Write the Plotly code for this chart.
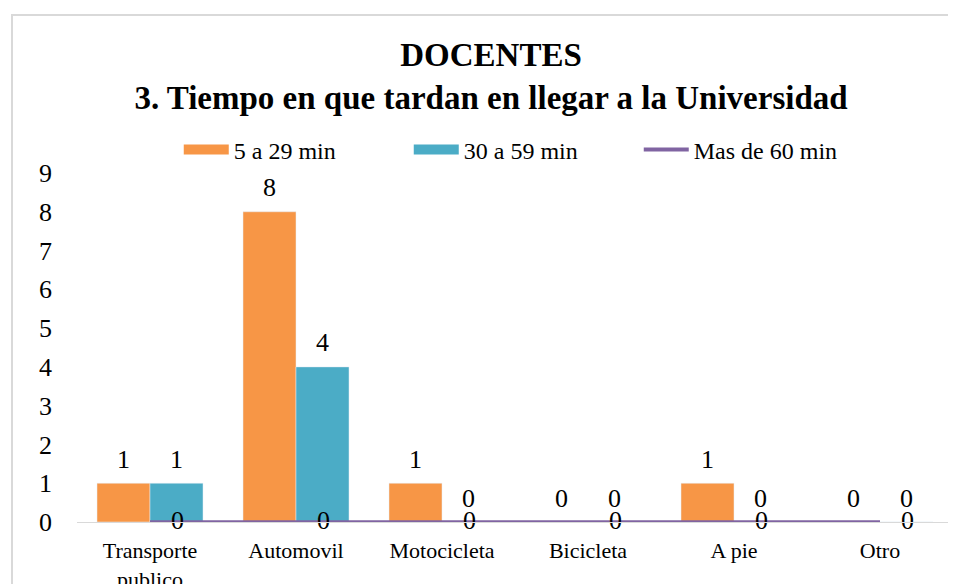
import plotly.graph_objects as go

categories = ["Transporte<br>publico", "Automovil", "Motocicleta", "Bicicleta", "A pie", "Otro"]
s1_name = "5 a 29 min"
s1_values = [1, 8, 1, 0, 1, 0]
s2_name = "30 a 59 min"
s2_values = [1, 4, 0, 0, 0, 0]
s3_name = "Mas de 60 min"
s3_values = [0, 0, 0, 0, 0, 0]
y_ticks = [0, 1, 2, 3, 4, 5, 6, 7, 8, 9]

FONT = "Liberation Serif, Times New Roman, serif"
LABEL_SIZE = 26
C1, C2, C3 = "#F79646", "#4BACC6", "#8064A2"

fig = go.Figure()
fig.add_trace(go.Bar(x=categories, y=s1_values, name=s1_name, marker_color=C1,
                     showlegend=False, legendgroup="a"))
fig.add_trace(go.Bar(x=categories, y=s2_values, name=s2_name, marker_color=C2,
                     showlegend=False, legendgroup="b"))
fig.add_trace(go.Scatter(
    x=categories, y=s3_values, name=s3_name, mode="lines+markers+text",
    line=dict(color=C3, width=3.5), showlegend=False, legendgroup="c",
    marker=dict(size=32, color="rgba(0,0,0,0)"),
    text=s3_values, textposition="middle right", cliponaxis=False,
    textfont=dict(size=LABEL_SIZE, color="#000000", family=FONT),
))
# legend entries (wide swatches like the original)
for name, col, w, g in ((s1_name, C1, 12, "a"), (s2_name, C2, 12, "b"), (s3_name, C3, 4, "c")):
    fig.add_trace(go.Scatter(x=[None], y=[None], mode="lines", name=name,
                             line=dict(color=col, width=w), legendgroup=g))

# bar value labels, placed above each grouped bar
annotations = []
for vals, dx in ((s1_values, -26.5), (s2_values, 26.5)):
    for c, v in zip(categories, vals):
        annotations.append(dict(
            x=c, y=v, xref="x", yref="y", text=str(v), showarrow=False,
            xshift=dx, yshift=24, yanchor="middle", xanchor="center",
            font=dict(size=LABEL_SIZE, family=FONT, color="#000000"),
        ))

fig.update_layout(
    width=948, height=576,
    paper_bgcolor="#FFFFFF", plot_bgcolor="#FFFFFF",
    font=dict(family=FONT, color="#000000"),
    margin=dict(l=69, r=3, t=165, b=62, autoexpand=False),
    barmode="group", bargap=0.274, bargroupgap=0,
    title=dict(
        text="<b>DOCENTES<br>3. Tiempo en que tardan en llegar a la Universidad</b>",
        x=0.5095, xanchor="center", yref="container", y=0.9, yanchor="top",
        font=dict(size=33, family=FONT, color="#000000"), automargin=False,
    ),
    legend=dict(
        orientation="h", x=0.51, xanchor="center", y=1.066, yanchor="middle",
        font=dict(size=24, family=FONT, color="#000000"),
        itemwidth=45, entrywidth=170, bgcolor="rgba(0,0,0,0)",
    ),
    xaxis=dict(
        showline=True, linecolor="#D9D9D9", linewidth=1, showgrid=False,
        tickfont=dict(size=22, family=FONT, color="#000000"),
        ticks="", ticklabelstandoff=9, automargin=False,
    ),
    yaxis=dict(
        range=[0, 9], tickvals=y_ticks, showgrid=False, zeroline=False,
        showline=False, tickfont=dict(size=26, family=FONT, color="#000000"),
        ticklabelstandoff=24, automargin=False,
    ),
    annotations=annotations,
    shapes=[dict(
        type="rect", xref="paper", yref="paper",
        x0=-0.0742, x1=1.2, y0=-0.6, y1=1.4527,
        line=dict(color="#D9D9D9", width=2), fillcolor="rgba(0,0,0,0)", layer="below",
    )],
)

fig.write_html("out.html")
